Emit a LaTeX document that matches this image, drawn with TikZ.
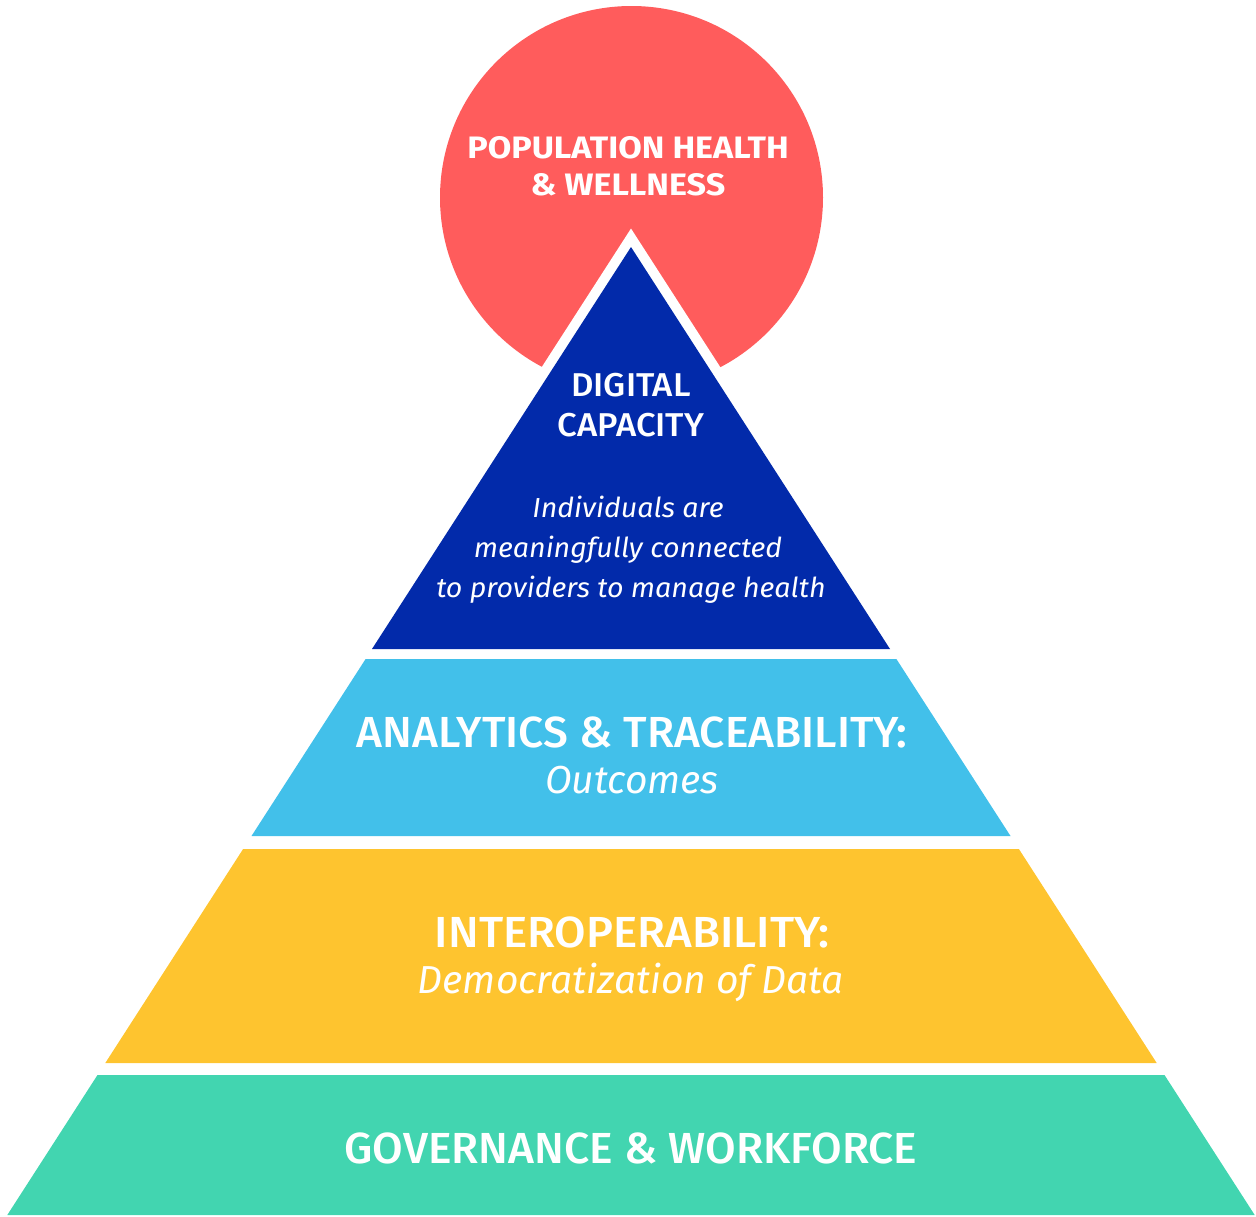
\documentclass[tikz,border=0pt]{standalone}
\usepackage{fontspec}
\setmainfont{Fira Sans}
\newfontfamily\medfont{Fira Sans Medium}
\definecolor{circred}{HTML}{FF5C5C}
\definecolor{digblue}{HTML}{022AAA}
\definecolor{anablue}{HTML}{42C0EA}
\definecolor{interyel}{HTML}{FEC42F}
\definecolor{govgreen}{HTML}{42D5B0}
\tikzset{
  lbl/.style={text=white, anchor=base, inner sep=0pt},
  fsz/.style={font=\medfont\fontsize{#1}{#1}\selectfont},
  isz/.style={font=\itshape\fontsize{#1}{#1}\selectfont},
}
\newcommand{\widen}[2]{\scalebox{#1}[1]{#2}}
\begin{document}
\begin{tikzpicture}[x=1pt,y=-1pt]
\useasboundingbox (0,0) rectangle (1256,1216);
% circle
\fill[circred] (631.5,197.5) circle[radius=191.5pt];
% white outline around top triangle
\draw[white, line width=20pt, line join=miter, miter limit=10] (631,247) -- (890,649) -- (372,649) -- cycle;
\fill[digblue] (631,247) -- (890,649) -- (372,649) -- cycle;
% layers
\fill[anablue] (365.6,659) -- (896.4,659) -- (1010.5,836) -- (251.5,836) -- cycle;
\fill[interyel] (243.1,849) -- (1018.9,849) -- (1156.7,1063) -- (105.3,1063) -- cycle;
\fill[govgreen] (97.5,1075) -- (1164.5,1075) -- (1254.7,1215) -- (7.3,1215) -- cycle;
% texts
\node[lbl, font=\bfseries\fontsize{31}{31}\selectfont] (ph1) at (628,158) {\widen{1.1}{POPULATION HEALTH}};
\node[lbl, font=\bfseries\fontsize{31}{31}\selectfont] (ph2) at (628,195) {\widen{1.1}{\& WELLNESS}};
\node[lbl, fsz=33] (dc1) at (631,396) {\widen{1.05}{DIGITAL}};
\node[lbl, fsz=33] (dc2) at (631,436) {\widen{1.05}{CAPACITY}};
\node[lbl, isz=27.5] (it1) at (628,517) {\widen{1.04}{Individuals are}};
\node[lbl, isz=27.5] (it2) at (628,557) {\widen{1.04}{meaningfully connected}};
\node[lbl, isz=27.5] (it3) at (631,597) {\widen{1.04}{to providers to manage health}};
\node[lbl, fsz=43.5] (an1) at (632,747) {\widen{1.02}{ANALYTICS \& TRACEABILITY:}};
\node[lbl, isz=39] (an2) at (632,793) {Outcomes};
\node[lbl, fsz=43.5] (in1) at (632,947) {\widen{1.05}{INTEROPERABILITY:}};
\node[lbl, isz=39] (in2) at (631,993) {Democratization of Data};
\node[lbl, fsz=43.5] (gw) at (631,1163) {\widen{1.02}{GOVERNANCE \& WORKFORCE}};
\end{tikzpicture}
\end{document}
